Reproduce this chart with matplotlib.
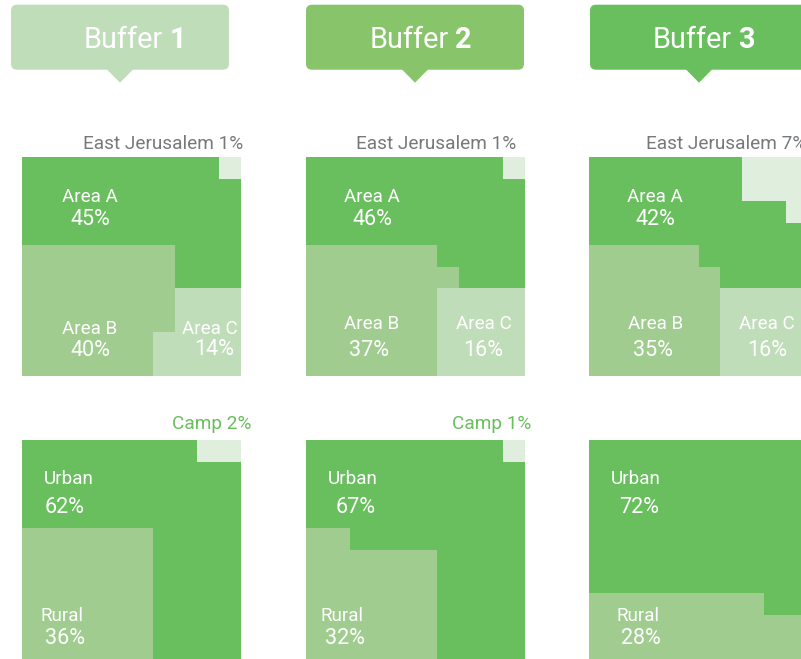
import numpy as np
import matplotlib
matplotlib.use("Agg")
import matplotlib.pyplot as plt
from matplotlib.colors import ListedColormap
from matplotlib.patches import FancyBboxPatch, Polygon

# ---------------- data ----------------
buffers = ["1", "2", "3"]
area_a = [45, 46, 42]
area_b = [40, 37, 35]
area_c = [14, 16, 16]
east_jerusalem = [1, 1, 7]
urban = [62, 67, 72]
rural = [36, 32, 28]
camp = [2, 1, 0]

# ---------------- style / layout ----------------
C_A = "#69be5e"
C_B = "#a0cc8f"
C_C = "#c0ddb9"
C_EJ = "#e0eedd"
BOX_COLORS = ["#c0ddb9", "#87c46a", "#69be5e"]
GREY = "#76797c"
FONT = "Roboto"
FS_NAME = 13.6
FS_PCT = 15.5
FS_NOTE = 13.7
FS_TITLE = 20.8
DY = 2.2  # vertical nudge for label text

W, H = 801, 659
CELL = 21.9
panel_x = [22, 306, 589]
top_y, bot_y = 157, 440
ej_span = [1, 1, 3]
rural_span = [6, 6, 10]

plt.rcParams["font.family"] = [FONT, "DejaVu Sans"]
fig = plt.figure(figsize=(W / 100, H / 100), dpi=100)
ax = fig.add_axes([0, 0, 1, 1])
ax.set_xlim(0, W)
ax.set_ylim(H, 0)
ax.axis("off")


def fill(grid, code, n, from_right, from_bottom, by_col, span):
    cols = list(range(9, -1, -1)) if from_right else list(range(10))
    rows = list(range(9, -1, -1)) if from_bottom else list(range(10))
    count = 0
    if by_col:
        for c in cols:
            for r in rows[:span]:
                if count < n and grid[r, c] < 0:
                    grid[r, c] = code
                    count += 1
    else:
        for r in rows:
            for c in cols[:span]:
                if count < n and grid[r, c] < 0:
                    grid[r, c] = code
                    count += 1
    return grid


def draw_grid(grid, x0, y0, colors):
    xs = x0 + CELL * np.arange(11)
    ys = y0 + CELL * np.arange(11)
    cmap = ListedColormap(colors)
    ax.pcolormesh(xs, ys, grid, cmap=cmap, vmin=-0.5, vmax=len(colors) - 0.5,
                  antialiased=False, linewidth=0)


def label(x, y, s, fs, **kw):
    ax.text(x, y + DY, s, color="white", fontsize=fs, ha="center", va="center", **kw)


# ---------------- callout boxes ----------------
box_x = [11, 306, 590]
box_w = 218
title_left = [84, 370, 653]
renderer = fig.canvas.get_renderer()
for i, b in enumerate(buffers):
    bx = box_x[i]
    box = FancyBboxPatch((bx, 4.7), box_w, 65, boxstyle="round,pad=0,rounding_size=6",
                         fc=BOX_COLORS[i], ec="none")
    ax.add_patch(box)
    tip = bx + box_w / 2
    ax.add_patch(Polygon([(tip - 13.5, 69), (tip + 13.5, 69), (tip, 82.7)],
                         closed=True, fc=BOX_COLORS[i], ec="none"))
    t1 = ax.text(title_left[i], 40, "Buffer", color="white", fontsize=FS_TITLE,
                 ha="left", va="center")
    wb = t1.get_window_extent(renderer).width
    ax.text(title_left[i] + wb + 6, 40, b, color="white", fontsize=FS_TITLE,
            fontweight="bold", ha="left", va="center")

# ---------------- top waffles (areas) ----------------
top_label_pos = [
    # (A name x, A pct x, B name x, B pct x, C name x, C pct x) relative to panel left
    (68, 68, 68, 68, 188, 192),
    (66, 66, 66, 63, 178, 177),
    (66, 66, 67, 64, 178, 178),
]
ej_right = [243, 516, 806]
for i in range(3):
    g = -np.ones((10, 10), dtype=int)
    fill(g, 3, east_jerusalem[i], True, False, False, ej_span[i])
    fill(g, 2, area_c[i], True, True, True, 4)
    fill(g, 1, area_b[i], False, True, True, 6)
    g[g < 0] = 0
    x0 = panel_x[i]
    draw_grid(g, x0, top_y, [C_A, C_B, C_C, C_EJ])
    lp = top_label_pos[i]
    label(x0 + lp[0], 194.7, "Area A", FS_NAME)
    label(x0 + lp[1], 217.5, f"{area_a[i]}%", FS_PCT)
    yb1 = 326.5 if i == 0 else 321.7
    label(x0 + lp[2], yb1, "Area B", FS_NAME)
    label(x0 + lp[3], 348.5, f"{area_b[i]}%", FS_PCT)
    label(x0 + lp[4], yb1, "Area C", FS_NAME)
    label(x0 + lp[5], 347.5 if i == 0 else 348.5, f"{area_c[i]}%", FS_PCT)
    ax.text(ej_right[i], 144, f"East Jerusalem {east_jerusalem[i]}%", color=GREY,
            fontsize=FS_NOTE, ha="right", va="center")

# ---------------- bottom waffles (locality) ----------------
bot_label_pos = [
    (47, 43, 40, 43),
    (46.5, 50, 36, 38.5),
    (47, 50, 49, 52),
]
camp_right = [251, 531, 806]
for i in range(3):
    g = -np.ones((10, 10), dtype=int)
    fill(g, 2, camp[i], True, False, False, 2)
    fill(g, 1, rural[i], False, True, False, rural_span[i])
    g[g < 0] = 0
    x0 = panel_x[i]
    draw_grid(g, x0, bot_y, [C_A, C_B, C_EJ])
    lp = bot_label_pos[i]
    label(x0 + lp[0], 477, "Urban", FS_NAME)
    label(x0 + lp[1], 505, f"{urban[i]}%", FS_PCT)
    label(x0 + lp[2], 614, "Rural", FS_NAME)
    label(x0 + lp[3], 636.5, f"{rural[i]}%", FS_PCT)
    if camp[i] > 0:
        ax.text(camp_right[i], 424, f"Camp {camp[i]}%", color=C_A, fontsize=FS_NOTE,
                ha="right", va="center")

fig.savefig("out.png", dpi=100)
